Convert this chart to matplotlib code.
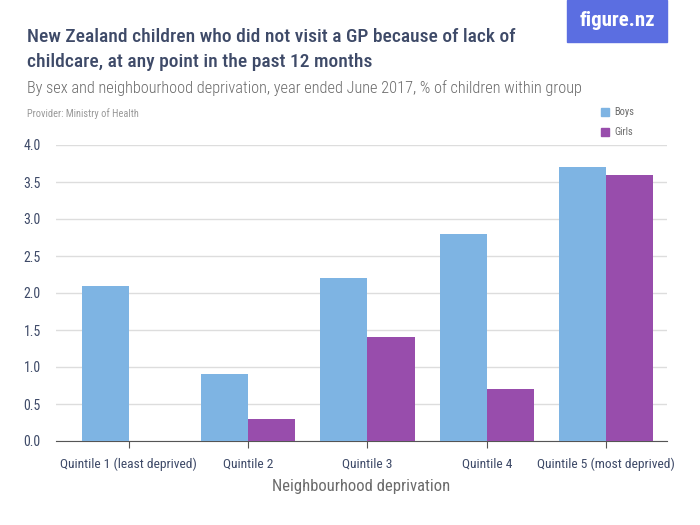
import numpy as np
import matplotlib.pyplot as plt
from matplotlib.patches import Rectangle

# data
categories = ["Quintile 1 (least deprived)", "Quintile 2", "Quintile 3",
              "Quintile 4", "Quintile 5 (most deprived)"]
boys = [2.1, 0.9, 2.2, 2.8, 3.7]
girls = [0.0, 0.3, 1.4, 0.7, 3.6]
yticks = [0.0, 0.5, 1.0, 1.5, 2.0, 2.5, 3.0, 3.5, 4.0]

plt.rcParams['font.family'] = ['Roboto Condensed', 'DejaVu Sans']

navy = "#3e4a68"
grey = "#6b6b6b"
c_boys = "#7eb4e3"
c_girls = "#984dac"

fig = plt.figure(figsize=(7, 5.25), dpi=100)
ax = fig.add_axes([56/700, 84/525, 611/700, 296/525])

x = np.arange(len(categories))
w = 0.395
ax.bar(x - w/2, boys, w, color=c_boys, zorder=3)
ax.bar(x + w/2, girls, w, color=c_girls, zorder=3)

ax.set_xlim(-0.61, 4.51)
ax.set_ylim(0, 4.0)
ax.set_yticks(yticks)
ax.set_yticklabels([f"{v:.1f}" for v in yticks], color=navy, fontsize=10)
ax.set_xticks(x)
ax.set_xticklabels(categories, color=navy, fontsize=9.7)
ax.tick_params(axis='y', length=0, pad=11)
ax.tick_params(axis='x', length=5, color="#555555", pad=7)
ax.yaxis.grid(True, color="#dddddd", linewidth=1, zorder=0)
for s in ["top", "right", "left"]:
    ax.spines[s].set_visible(False)
ax.spines["bottom"].set_color("#555555")
ax.set_xlabel("Neighbourhood deprivation", color=grey, fontsize=12, labelpad=6)

# titles
fig.text(27/700, 1 - 37/525, "New Zealand children who did not visit a GP because of lack of",
         fontsize=14, color=navy, va='center', weight='medium')
fig.text(27/700, 1 - 62/525, "childcare, at any point in the past 12 months",
         fontsize=14, color=navy, va='center', weight='medium')
fig.text(27/700, 1 - 88/525,
         "By sex and neighbourhood deprivation, year ended June 2017, % of children within group",
         fontsize=11.7, color=grey, va='center', weight='light')
fig.text(27/700, 1 - 114/525, "Provider: Ministry of Health", fontsize=7.5, color="#999999", va='center')

# logo
fig.patches.append(Rectangle((567/700, 1 - 42/525), 100/700, 42/525,
                             transform=fig.transFigure, color="#5b6ee1", zorder=5))
fig.text(617/700, 1 - 21/525, "figure.nz", fontsize=15, color="white", ha='center',
         va='center', weight='bold', zorder=6)

# legend
for i, (lab, c) in enumerate([("Boys", c_boys), ("Girls", c_girls)]):
    yy = 1 - (112 + 20*i)/525
    fig.patches.append(Rectangle((601/700, yy - 4/525), 8/700, 8/525,
                                 transform=fig.transFigure, color=c))
    fig.text(614/700, yy, lab, fontsize=7.5, color=grey, va='center')

plt.savefig("out.png", dpi=100)
